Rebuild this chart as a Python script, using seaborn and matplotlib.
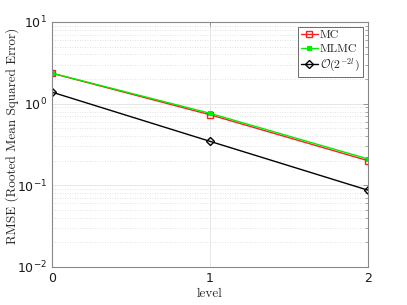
import numpy as np
import pandas as pd
import matplotlib
matplotlib.use("Agg")
import matplotlib.pyplot as plt
import seaborn as sns
from matplotlib.font_manager import FontProperties
from matplotlib.ticker import LogLocator, NullFormatter

# values
levels = [0, 1, 2]
mc = [2.35, 0.73, 0.20]
mlmc = [2.36, 0.76, 0.21]
ref = [1.38, 0.345, 0.087]

df = pd.DataFrame({"level": levels, "MC": mc, "MLMC": mlmc, "ref": ref})

sns.set_theme(style="white")
plt.rcParams["font.family"] = ["DejaVu Sans"]

fig = plt.figure(figsize=(4.07, 3.05), dpi=100)
ax = fig.add_axes([0.128, 0.125, 0.776, 0.803])

sns.lineplot(data=df, x="level", y="MC", ax=ax, color="#ff2020", lw=1.0,
             marker="s", markersize=4.5, markerfacecolor="none",
             markeredgecolor="#ff2020", markeredgewidth=1.0, label="MC")
sns.lineplot(data=df, x="level", y="MLMC", ax=ax, color="#00ee00", lw=1.0,
             marker="s", markersize=3.2, markerfacecolor="#00ee00",
             markeredgecolor="#00ee00", markeredgewidth=0.8, label="MLMC")
sns.lineplot(data=df, x="level", y="ref", ax=ax, color="black", lw=1.0,
             marker="D", markersize=4.0, markerfacecolor="none",
             markeredgecolor="black", markeredgewidth=1.0,
             label=r"$\mathcal{O}(2^{-2l})$")

ax.set_yscale("log")
ax.set_ylim(1e-2, 1e1)
ax.set_xlim(0, 2)
ax.set_xticks(levels)
ax.yaxis.set_major_locator(LogLocator(base=10, numticks=10))
ax.yaxis.set_minor_locator(LogLocator(base=10, subs=np.arange(2, 10), numticks=20))
ax.yaxis.set_minor_formatter(NullFormatter())

ax.grid(True, which="major", color="#e6e6e6", lw=0.7, ls="-")
ax.grid(True, which="minor", axis="y", color="#d8d8d8", lw=0.6, ls=(0, (1, 2)))
ax.set_axisbelow(True)

for sp in ax.spines.values():
    sp.set_color("#888888")
    sp.set_linewidth(0.8)
ax.tick_params(which="both", direction="in", top=True, right=True,
               color="#888888", labelsize=9, labelcolor="#1a1a1a")
ax.tick_params(which="major", length=3.5, width=0.6)
ax.tick_params(which="minor", length=2, width=0.5)

serif = FontProperties(family="cmr10", size=9.5)
ax.set_xlabel("level", fontproperties=serif, labelpad=2)
ax.set_ylabel("RMSE (Rooted Mean Squared Error)", fontproperties=serif, labelpad=-1.5)
ax.yaxis.label.set_y(0.535)

leg_font = FontProperties(family="cmr10", size=8.5, math_fontfamily="cm")
leg = ax.legend(loc="upper right", prop=leg_font, frameon=True, fancybox=False,
                edgecolor="#555555", framealpha=1.0, handlelength=1.4,
                handletextpad=0.2, borderpad=0.3, labelspacing=0.25,
                borderaxespad=0.4)
leg.get_frame().set_linewidth(0.6)

fig.savefig("out.png", dpi=100)
